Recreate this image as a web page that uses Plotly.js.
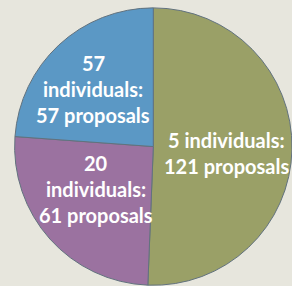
<!DOCTYPE html>
<html><head><meta charset="utf-8">
<script src="https://cdn.plot.ly/plotly-3.0.1.min.js"></script>
<style>html,body{margin:0;padding:0;background:#e7e6dd;}</style>
</head><body>
<div id="chart" style="width:292px;height:286px;"></div>
<script>
const groups = ["5 individuals", "20 individuals", "57 individuals"];
const individuals = [5, 20, 57];
const proposals = [121, 61, 57];
const colors = ["#9aa067", "#9b72a0", "#5b98c5"];

// label line layouts: [group index, lines, center x px, first line y px]
const labelLines = [
  [0, [individuals[0] + " individuals:", proposals[0] + " proposals"], 226, 140],
  [1, [String(individuals[1]), "individuals:", proposals[1] + " proposals"], 96, 163],
  [2, [String(individuals[2]), "individuals:", proposals[2] + " proposals"], 93, 63]
];
const W = 292, H = 286, LH = 26;
const annotations = [];
labelLines.forEach(([gi, lines, cx, y0]) => {
  lines.forEach((t, k) => {
    annotations.push({
      text: t, xref: "paper", yref: "paper",
      x: cx / W, y: 1 - (y0 + k * LH) / H,
      xanchor: "center", yanchor: "middle", showarrow: false,
      font: {family: "Lato, sans-serif", size: 20, color: "#ffffff", weight: "bold"}
    });
  });
});

Plotly.newPlot("chart", [{
  type: "pie",
  labels: groups,
  values: proposals,
  sort: false,
  direction: "clockwise",
  rotation: 0,
  textinfo: "none",
  hoverinfo: "none",
  marker: {colors: colors, line: {color: "#62727e", width: 1}},
  domain: {x: [0.05, 1], y: [0, 0.975]}
}], {
  width: W, height: H,
  margin: {l: 0, r: 0, t: 0, b: 0},
  paper_bgcolor: "#e7e6dd",
  plot_bgcolor: "#e7e6dd",
  showlegend: false,
  annotations: annotations
}, {displayModeBar: false, staticPlot: true});
</script>
</body></html>
